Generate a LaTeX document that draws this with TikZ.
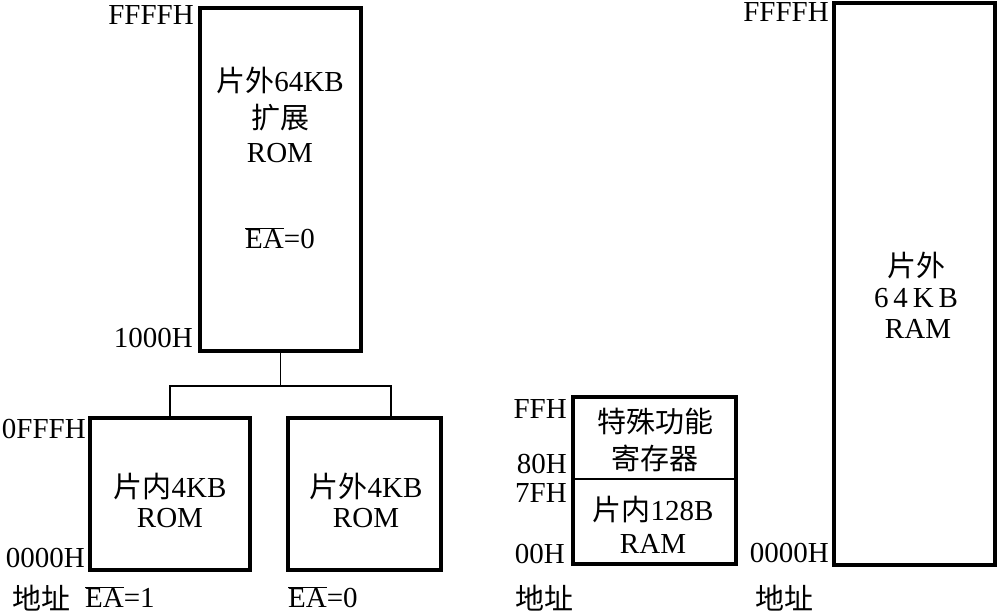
\documentclass[tikz,border=0pt]{standalone}
\usepackage{fontspec}
\setmainfont{Liberation Serif}
\newfontfamily\cjk{Noto Sans CJK SC}
\begin{document}
\begin{tikzpicture}[x=1pt,y=-1pt,
  box/.style={draw, line width=3.2pt, inner sep=0pt},
  wire/.style={draw, line width=1.3pt},
  txt/.style={font=\fontsize{29}{34}\selectfont, inner sep=0pt, align=center},
  addr/.style={font=\fontsize{29}{34}\selectfont, inner sep=0pt, anchor=east}]
\useasboundingbox (0,0) rectangle (998,614);
% boxes
\node[box, minimum width=161pt, minimum height=343pt] (rom) at (280.5,179.5) {};
\node[box, minimum width=160pt, minimum height=152pt] (inrom) at (170,494) {};
\node[box, minimum width=153pt, minimum height=152pt] (exrom) at (364.5,494) {};
\node[box, minimum width=163pt, minimum height=167pt] (iram) at (654.5,480.5) {};
\node[box, minimum width=161pt, minimum height=562pt] (xram) at (914.5,284) {};
\coordinate (div1) at (573,479);
\coordinate (div2) at (736,479);
\draw[line width=2.2pt] (div1) -- (div2);
% connectors
\coordinate (j) at (280.5,386);
\coordinate (jr) at (391,418);
\draw[wire] (rom.south) -- (j);
\draw[wire] (inrom.north) |- (j) -| (jr);
% texts in boxes
\node[txt] (t1) at (280,80) {{\cjk 片外}64KB};
\node[txt] (t2) at (280,118) {{\cjk 扩展}};
\node[txt] (t3) at (280,153) {ROM};
\node[txt] (t4) at (280,238) {$\overline{\mbox{EA}}$=0};
\node[txt] (t5) at (170,486) {{\cjk 片内}4KB};
\node[txt] (t6) at (170,518) {ROM};
\node[txt] (t7) at (366,486) {{\cjk 片外}4KB};
\node[txt] (t8) at (366,518) {ROM};
\node[txt] (t9) at (655,422) {\cjk 特殊功能};
\node[txt] (t10) at (655,458) {\cjk 寄存器};
\node[txt] (t11) at (653,509) {{\cjk 片内}128B};
\node[txt] (t12) at (653,544) {RAM};
\node[txt] (t13) at (916,265) {\cjk 片外};
\node[txt] (t14) at (916,298) {6\,4\,K\,B};
\node[txt] (t15) at (918,329) {RAM};
% address labels
\node[addr] (a1) at (194,15) {FFFFH};
\node[addr] (a2) at (193,338) {1000H};
\node[addr] (a3) at (86,429) {0FFFH};
\node[addr] (a4) at (85,558) {0000H};
\node[addr] (a5) at (567,409) {FFH};
\node[addr] (a6) at (567,464) {80H};
\node[addr] (a7) at (567,493) {7FH};
\node[addr] (a8) at (565,554) {00H};
\node[addr] (a9) at (829,12) {FFFFH};
\node[addr] (a10) at (829,553) {0000H};
% bottom labels
\node[txt, anchor=west] (b1) at (12,598) {\cjk 地址};
\node[txt, anchor=west] (b2) at (85,597) {$\overline{\mbox{EA}}$=1};
\node[txt, anchor=west] (b3) at (288,597) {$\overline{\mbox{EA}}$=0};
\node[txt, anchor=west] (b4) at (515,598) {\cjk 地址};
\node[txt, anchor=west] (b5) at (755,598) {\cjk 地址};
\end{tikzpicture}
\end{document}
